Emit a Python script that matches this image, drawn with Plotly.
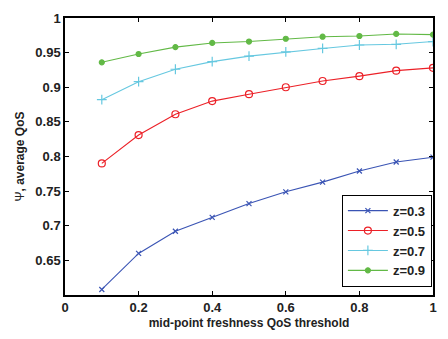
import plotly.graph_objects as go

x = [0.1, 0.2, 0.3, 0.4, 0.5, 0.6, 0.7, 0.8, 0.9, 1.0]
z03 = [0.608, 0.660, 0.692, 0.712, 0.732, 0.749, 0.763, 0.779, 0.792, 0.799]
z05 = [0.790, 0.831, 0.861, 0.880, 0.890, 0.900, 0.909, 0.916, 0.924, 0.928]
z07 = [0.882, 0.908, 0.926, 0.937, 0.945, 0.951, 0.956, 0.961, 0.962, 0.966]
z09 = [0.936, 0.948, 0.958, 0.964, 0.966, 0.970, 0.973, 0.974, 0.977, 0.976]
names = ["z=0.3", "z=0.5", "z=0.7", "z=0.9"]
colors = ["#3a54b4", "#ec2027", "#66c8e0", "#62b946"]
symbols = ["x-thin", "circle-open", "cross-thin", "circle"]
sizes = [5, 7, 7, 5]

fig = go.Figure()
for ys, n, c, s, sz in zip([z03, z05, z07, z09], names, colors, symbols, sizes):
    fig.add_trace(go.Scatter(
        x=x, y=ys, name=n, mode="lines+markers",
        line=dict(color=c, width=1.1),
        marker=dict(symbol=s, size=sz, color=c, line=dict(color=c, width=1.2)),
    ))

font_fam = "Liberation Sans, Arial, sans-serif"
fig.update_layout(
    width=448, height=339,
    margin=dict(l=65, r=14, t=11, b=37),
    paper_bgcolor="white", plot_bgcolor="white",
    font=dict(family=font_fam, size=12, color="#222"),
    showlegend=True,
    legend=dict(x=0.997, y=0.03, xanchor="right", yanchor="bottom",
                bgcolor="white", bordercolor="black", borderwidth=1,
                font=dict(size=13, family=font_fam, weight="bold"),
                itemwidth=40, tracegroupgap=0),
)
fig.update_xaxes(
    range=[0, 1], tickvals=[0, 0.2, 0.4, 0.6, 0.8, 1],
    ticktext=["0", "0.2", "0.4", "0.6", "0.8", "1"],
    ticks="inside", ticklen=4, tickcolor="black", mirror="ticks",
    showline=True, linecolor="black", linewidth=1.5, showgrid=False, zeroline=False,
    tickfont=dict(size=13, weight="bold"),
    title=dict(text="mid-point freshness QoS threshold", font=dict(size=12, weight="bold"), standoff=4),
)
fig.update_yaxes(
    range=[0.6, 1], tickvals=[0.65, 0.7, 0.75, 0.8, 0.85, 0.9, 0.95, 1],
    ticktext=["0.65", "0.7", "0.75", "0.8", "0.85", "0.9", "0.95", "1"],
    ticks="inside", ticklen=4, tickcolor="black", mirror="ticks",
    showline=True, linecolor="black", linewidth=1.5, showgrid=False, zeroline=False,
    tickfont=dict(size=13, weight="bold"),
    title=dict(text="<span style='font-weight:normal'>Ψ</span>, average QoS", font=dict(size=12, weight="bold"), standoff=8),
)
fig.write_html("out.html")
